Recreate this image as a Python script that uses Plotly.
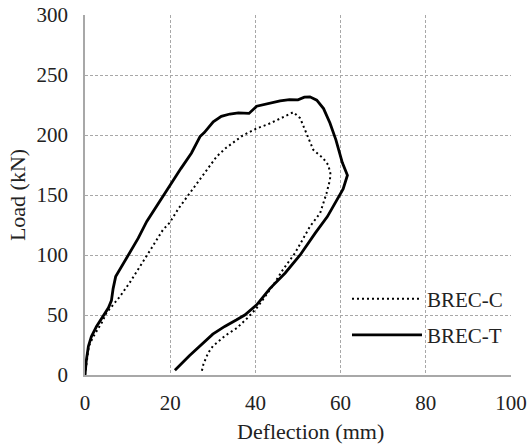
import plotly.graph_objects as go

# BREC-C (dotted)
c_defl = [0, 0.4, 0.9, 1.8, 2.7, 4.0, 5.0, 6.5, 8.2, 10.5, 12.9, 15.5, 18.3, 19.9, 22.0, 24.6,
          27.5, 30.9, 33.0, 35.0, 37.0, 40.3, 43.0, 46.0, 48.9, 50.5, 52.0, 53.6, 55.9, 57.1,
          57.6, 57.5, 56.7, 55.2, 52.8, 49.3, 46.5, 44.2, 42.0, 40.3, 38.0, 35.6, 33.0, 31.7,
          30.0, 28.9, 27.8, 27.4]
c_load = [0, 12, 24, 31, 36, 44, 51.6, 58, 65.4, 77, 90, 105, 121, 127, 139, 151.5,
          166, 182, 189, 194.5, 199.5, 205.5, 209, 214, 219, 214, 201.5, 187.6, 180.7, 175,
          168, 162.6, 151.5, 135, 123.7, 101.6, 88, 75, 64, 55.8, 47, 39, 33, 29.4,
          24, 18.3, 9, 3]

# BREC-T (solid)
t_defl = [0, 0.3, 0.8, 1.5, 2.7, 4.2, 5.5, 6.2, 6.6, 7.2, 8.5, 10.1, 12.5, 14.5, 17.0, 19.7,
          22.5, 25.0, 27.0, 28.0, 30.1, 32.0, 34.0, 36.0, 38.5, 40.3, 42.5, 45.8, 48.0, 50.0,
          51.5, 52.8, 54.4, 56.0, 57.5, 58.9, 60.4, 61.3, 61.6, 60.6, 59.1, 56.9, 54.0, 50.5,
          47.0, 43.4, 40.3, 37.5, 35.6, 33.5, 32.8, 30.0, 27.7, 24.5, 21.1]
t_load = [0, 12, 24, 32, 40.5, 48.8, 56, 62, 72, 82, 90, 100, 114, 128, 142, 157,
          172, 185, 198.7, 202, 211, 215.5, 217.5, 218.5, 218, 224, 226, 228.5, 229.5, 229.3,
          231.5, 231.8, 229, 222, 210, 196, 177, 170, 166.5, 155, 146, 132, 118, 100,
          85, 72, 58.5, 50, 46, 42, 40.5, 34, 26.6, 16, 4]

x_ticks = [0, 20, 40, 60, 80, 100]
y_ticks = [0, 50, 100, 150, 200, 250, 300]

FONT = "'Liberation Serif', 'Times New Roman', serif"
TXT = "#222222"
GRID = "#a8a8a8"

fig = go.Figure()
fig.add_trace(go.Scatter(x=c_defl, y=c_load, mode="lines", name="BREC-C",
                         legendgroup="c",
                         line=dict(color="black", width=2, dash="2px,3px")))
fig.add_trace(go.Scatter(x=t_defl, y=t_load, mode="lines", name="BREC-T",
                         legendgroup="t",
                         line=dict(color="black", width=2.8)))

fig.update_layout(
    width=528, height=445,
    margin=dict(l=85, r=17, t=15, b=70),
    paper_bgcolor="white", plot_bgcolor="white",
    font=dict(family=FONT, size=21, color=TXT),
    legend=dict(x=0.615, y=0.268, xanchor="left", yanchor="top",
                bgcolor="rgba(0,0,0,0)", traceorder="grouped",
                tracegroupgap=6, itemwidth=70,
                font=dict(family=FONT, size=21, color=TXT)),
    showlegend=True,
    annotations=[dict(text="Deflection (mm)", xref="paper", yref="paper",
                      x=0.5305, y=0, yshift=-56, xanchor="center", yanchor="middle",
                      showarrow=False, font=dict(family=FONT, size=22, color=TXT))],
)
fig.update_xaxes(range=[0, 100], tickvals=x_ticks, ticks="", automargin=False,
                 ticklabeloverflow="allow",
                 showgrid=True, gridcolor=GRID, griddash="3px,2px", gridwidth=1,
                 showline=True, linecolor=GRID, linewidth=1.5, zeroline=False,
                 ticklabelstandoff=8)
fig.update_yaxes(range=[0, 300], tickvals=y_ticks, ticks="", automargin=False,
                 ticklabeloverflow="allow",
                 showgrid=True, gridcolor=GRID, griddash="3px,2px", gridwidth=1,
                 showline=True, linecolor=GRID, linewidth=1.5, zeroline=False,
                 ticklabelstandoff=11,
                 title=dict(text="Load (kN)", standoff=5,
                            font=dict(family=FONT, size=22, color=TXT)))

fig.write_html("out.html", config={"displayModeBar": False},
               post_script="document.body.style.margin='0px';")
